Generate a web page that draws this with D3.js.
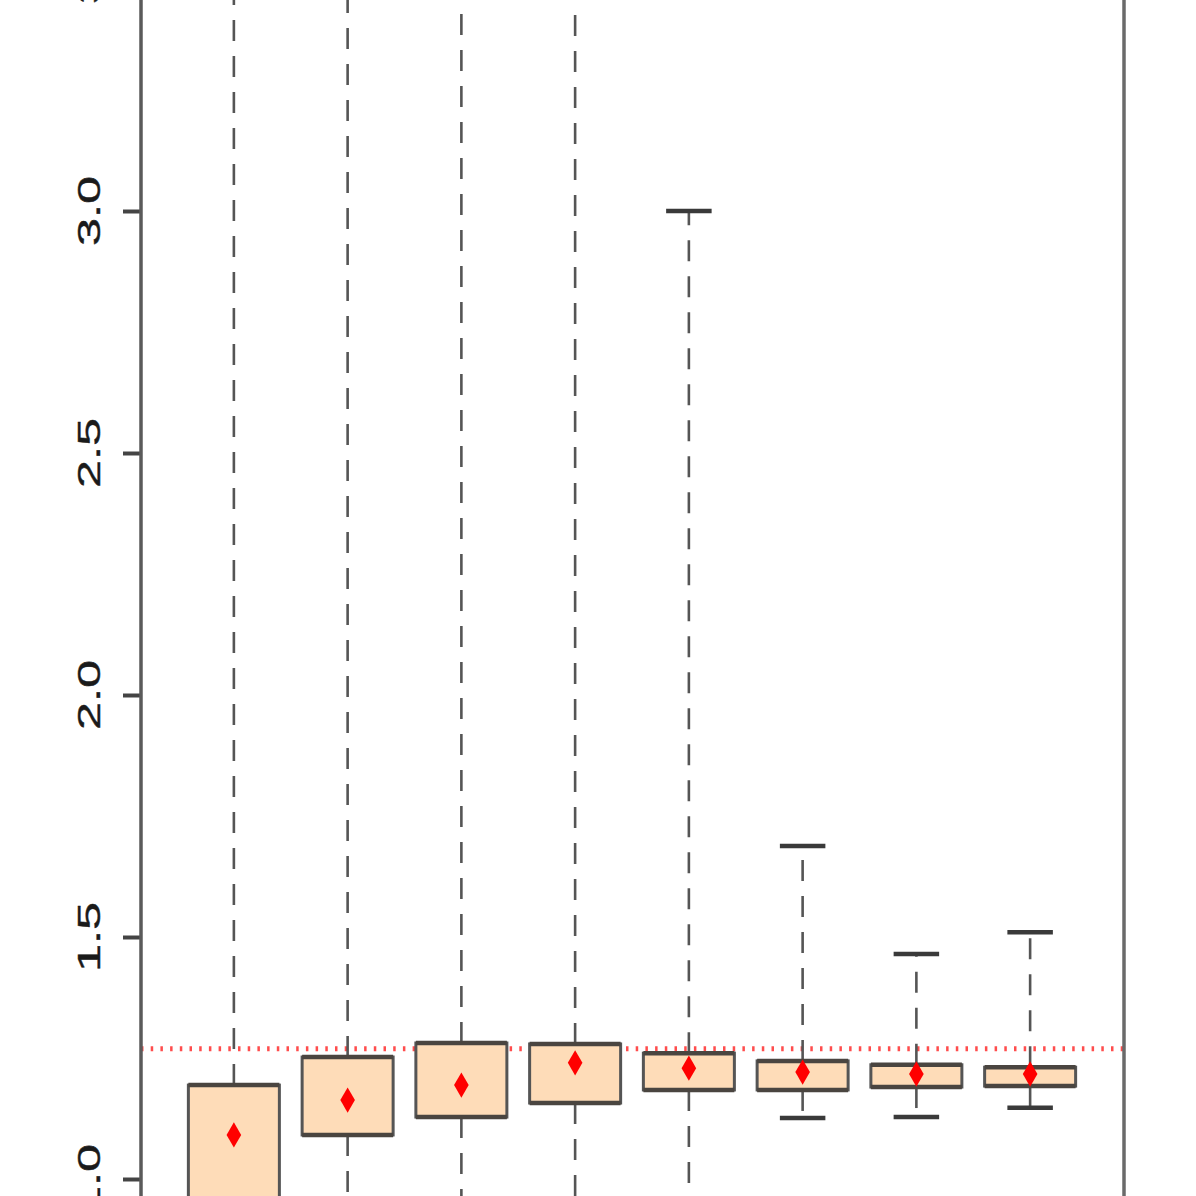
<!DOCTYPE html>
<html>
<head>
<meta charset="utf-8">
<script src="https://cdn.jsdelivr.net/npm/d3@7"></script>
<style>
  html, body { margin: 0; padding: 0; background: #fff; }
  svg { display: block; }
</style>
</head>
<body>
<svg id="chart" width="1196" height="1196"></svg>
<script>
const groups = ["1", "2", "3", "4", "5", "6", "7", "8"];
const q1 = [0.93, 1.091, 1.128, 1.157, 1.184, 1.184, 1.190, 1.192];
const q3 = [1.194, 1.252, 1.281, 1.279, 1.260, 1.244, 1.236, 1.231];
const means = [1.091, 1.163, 1.194, 1.240, 1.229, 1.221, 1.217, 1.217];
const whiskHigh = [3.7, 3.7, 3.7, 3.7, 3.0, 1.688, 1.465, 1.510];
const whiskLow = [0.8, 0.85, 0.85, 0.85, 0.88, 1.126, 1.128, 1.147];
const refLine = 1.269;
const yTicks = [1.0, 1.5, 2.0, 2.5, 3.0, 3.5];

const svg = d3.select("#chart");
const left = 141, right = 1124;

// y(1.0) = 1179, y(3.0) = 211 ; plot region extends beyond the picture
const y = d3.scaleLinear().domain([1, 3]).range([1179, 211]);

const x = d3.scaleBand()
  .domain(groups)
  .range([177, 1087])
  .paddingInner(0.2)
  .paddingOuter(0.1);

const boxes = groups.map((g, i) => ({
  g, q1: q1[i], q3: q3[i], mean: means[i], hi: whiskHigh[i], lo: whiskLow[i]
}));

// reference line
svg.append("line")
  .attr("x1", left).attr("x2", right)
  .attr("y1", y(refLine)).attr("y2", y(refLine))
  .attr("stroke", "#ff2020")
  .attr("stroke-opacity", 0.8)
  .attr("stroke-width", 5)
  .attr("stroke-dasharray", "2.5 7.2");

const bg = svg.selectAll(".box").data(boxes).enter().append("g").attr("class", "box");
const cx = d => x(d.g) + x.bandwidth() / 2;
const capW = x.bandwidth() / 2;

// whiskers
bg.append("line")
  .attr("x1", cx).attr("x2", cx)
  .attr("y1", d => y(d.q3)).attr("y2", d => y(d.hi))
  .attr("stroke", "#555").attr("stroke-width", 2.6)
  .attr("stroke-dasharray", "21 15");
bg.append("line")
  .attr("x1", cx).attr("x2", cx)
  .attr("y1", d => y(d.q1)).attr("y2", d => y(d.lo))
  .attr("stroke", "#555").attr("stroke-width", 2.6)
  .attr("stroke-dasharray", "21 15");

// caps
["hi", "lo"].forEach(k => {
  bg.append("line")
    .attr("x1", d => cx(d) - capW / 2).attr("x2", d => cx(d) + capW / 2)
    .attr("y1", d => y(d[k])).attr("y2", d => y(d[k]))
    .attr("stroke", "#3a3a3a").attr("stroke-width", 4.5);
});

// boxes
bg.append("rect")
  .attr("x", d => x(d.g))
  .attr("y", d => y(d.q3))
  .attr("width", x.bandwidth())
  .attr("height", d => y(d.q1) - y(d.q3))
  .attr("fill", "#fedcb8")
  .attr("stroke", "#555")
  .attr("stroke-width", 3);
["q1", "q3"].forEach(k => {
  bg.append("line")
    .attr("x1", d => x(d.g)).attr("x2", d => x(d.g) + x.bandwidth())
    .attr("y1", d => y(d[k])).attr("y2", d => y(d[k]))
    .attr("stroke", "#4a4540").attr("stroke-width", 4.5);
});

// means
bg.append("path")
  .attr("d", d3.symbol(d3.symbolDiamond, 185))
  .attr("transform", d => `translate(${cx(d)},${y(d.mean)})`)
  .attr("fill", "#ff0000");

// axis
const axis = svg.append("g")
  .attr("transform", `translate(${left},0)`)
  .call(d3.axisLeft(y).tickValues(yTicks).tickSize(18).tickSizeOuter(0).tickFormat(""));
axis.select(".domain").remove();
axis.selectAll(".tick line").attr("stroke", "#444").attr("stroke-width", 4);

svg.append("line")
  .attr("x1", left).attr("x2", left).attr("y1", 0).attr("y2", 1196)
  .attr("stroke", "#5a5a5a").attr("stroke-width", 3.5);
svg.append("line")
  .attr("x1", right).attr("x2", right).attr("y1", 0).attr("y2", 1196)
  .attr("stroke", "#6a6a6a").attr("stroke-width", 3.5);

svg.selectAll(".ylab").data(yTicks).enter().append("text")
  .attr("class", "ylab")
  .attr("transform", d => `translate(100,${y(d)}) scale(1,1.63) rotate(-90)`)
  .attr("text-anchor", "middle")
  .attr("font-family", "Liberation Sans, Arial, sans-serif")
  .attr("font-size", 31)
  .attr("fill", "#1a1a1a")
  .attr("stroke", "#1a1a1a")
  .attr("stroke-width", 0.4)
  .text(d3.format(".1f"));
</script>
</body>
</html>
